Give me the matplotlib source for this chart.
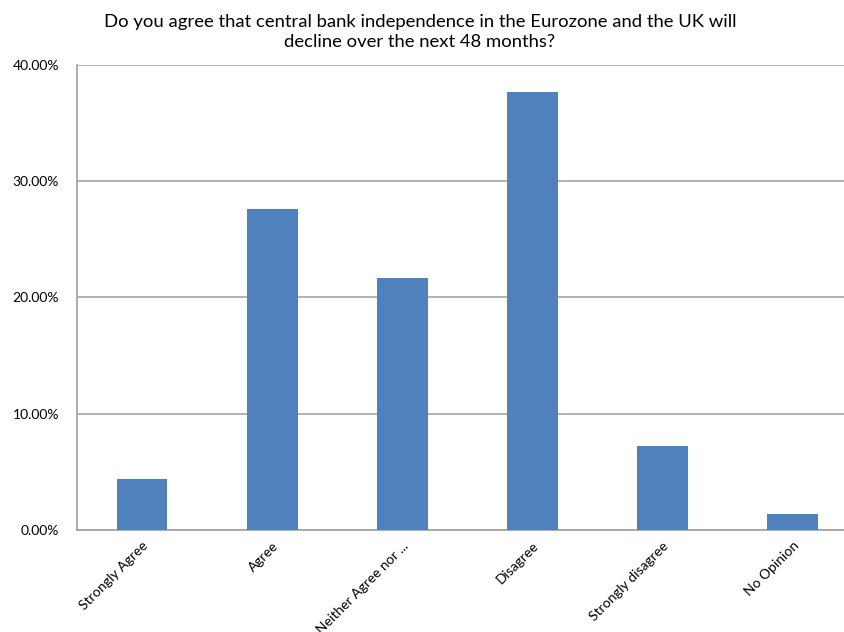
import matplotlib.pyplot as plt
from matplotlib.ticker import FuncFormatter

categories = ["Strongly Agree", "Agree", "Neither Agree nor ...", "Disagree",
              "Strongly disagree", "No Opinion"]
percent = [4.4, 27.6, 21.7, 37.7, 7.2, 1.4]
yticks = [0, 10, 20, 30, 40]

plt.rcParams['font.family'] = ['Lato', 'DejaVu Sans']

fig = plt.figure(figsize=(8.45, 6.32), dpi=100)
ax = fig.add_axes([0.0911, 0.1614, 0.924, 0.7358])

x = range(len(categories))
ax.bar(x, percent, width=0.39, color="#4F81BD", zorder=3)

ax.set_xlim(-0.5, len(categories) - 0.5)
ax.set_ylim(0, 40)
ax.set_yticks(yticks)
ax.yaxis.set_major_formatter(FuncFormatter(lambda v, p: f"{v:.2f}%"))
ax.yaxis.grid(True, color="#A6A6A6", linewidth=1.2, zorder=0)
ax.set_axisbelow(True)

ax.set_xticks(list(x))
ax.set_xticklabels(categories, rotation=45, ha='right', rotation_mode='anchor',
                   fontsize=10)
ax.tick_params(axis='x', length=0, pad=7)
ax.tick_params(axis='y', length=0, pad=13, labelsize=10)

for side in ['top', 'right']:
    ax.spines[side].set_visible(False)
for side in ['left', 'bottom']:
    ax.spines[side].set_color("#A0A0A0")
    ax.spines[side].set_linewidth(1.2)

fig.text(0.497, 0.978, "Do you agree that central bank independence in the Eurozone and the UK will\n"
         "decline over the next 48 months?", ha='center', va='top', fontsize=13.3,
         linespacing=1.3)

fig.savefig("out.png", dpi=100)
plt.close()
